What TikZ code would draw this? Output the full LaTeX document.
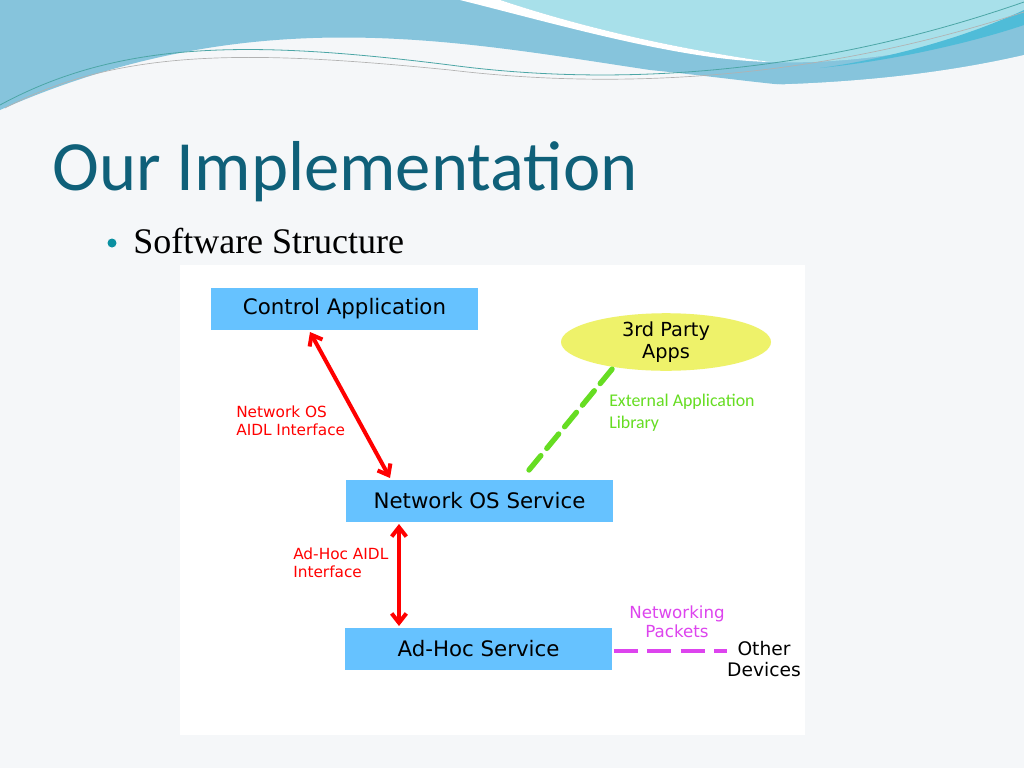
\documentclass[tikz,border=0pt]{standalone}
\usepackage{fontspec}
\setmainfont{Liberation Serif}
\newfontfamily\carfont{Carlito}
\newfontfamily\dv{DejaVu Sans}
\usetikzlibrary{shapes.geometric,arrows.meta}
\definecolor{bg}{HTML}{F5F7F9}
\definecolor{boxb}{HTML}{66C2FF}
\definecolor{ttl}{HTML}{0F6079}
\definecolor{ylw}{HTML}{EEF26A}
\definecolor{grn}{HTML}{66DD22}
\definecolor{mag}{HTML}{DD44EE}
\definecolor{wv1}{HTML}{86C4DC}
\definecolor{wv2}{HTML}{A8E0EA}
\definecolor{wv3}{HTML}{4FBCD8}
\tikzset{
 box/.style={fill=boxb,minimum width=267*0.75pt,minimum height=42*0.75pt,inner sep=0pt,font=\dv\fontsize{16}{19}\selectfont},
 lbl/.style={align=left,anchor=north west,inner sep=0pt,font=\dv\fontsize{11.5}{13.5}\selectfont},
 redarr/.style={red,line width=3pt,{Straight Barb[length=7pt,width=11pt]}-{Straight Barb[length=7pt,width=11pt]}},
}
\begin{document}
\begin{tikzpicture}[x=0.75pt,y=-0.75pt]
\useasboundingbox (0,0) rectangle (1024,768);
\fill[bg] (0,0) rectangle (1024,768);
% header waves
\fill[wv1] (0,0) -- (1024,0) -- (1024,60) .. controls (900,110) and (800,85) .. (650,70) .. controls (450,40) and (250,0) .. (0,110) -- cycle;
\fill[wv2] (500,0) -- (1024,0) -- (1024,20) .. controls (950,50) and (850,65) .. (770,62) .. controls (650,45) and (560,20) .. (500,0) -- cycle;
\fill[white] (460,0) -- (500,0) .. controls (560,20) and (650,45) .. (770,62) .. controls (680,60) and (560,25) .. (460,0) -- cycle;
\fill[wv3] (1024,10) .. controls (960,40) and (880,60) .. (820,68) .. controls (900,60) and (980,40) .. (1024,25) -- cycle;
\draw[teal!70,line width=0.6pt] (0,105) .. controls (120,40) and (250,40) .. (450,65) .. controls (600,85) and (800,80) .. (1024,2);
\draw[gray!60,line width=0.5pt] (5,108) .. controls (120,48) and (250,50) .. (450,70) .. controls (600,88) and (800,85) .. (1024,12);
\fill[bg] (0,130) .. controls (150,55) and (300,60) .. (450,72) .. controls (650,90) and (850,95) .. (1024,55) -- (1024,140) -- (0,140) -- cycle;
% title
\node[anchor=base west,inner sep=0pt,text=ttl,font=\carfont\fontsize{53}{55}\selectfont] (title) at (52,190) {Our Implementation};
\fill[ttl!70!cyan] (112,243) circle (4.5);
\node[anchor=base west,inner sep=0pt,font=\fontsize{27}{29}\selectfont] (sub) at (133,253) {Software Structure};
% panel
\fill[white] (180,265) rectangle (805,735);
\node[box] (ctrl) at (344.5,309) {Control Application};
\node[box] (nos) at (479.5,500.5) {Network OS Service};
\node[box] (adh) at (478.5,649) {Ad-Hoc Service};
\node[ellipse,fill=ylw,minimum width=210*0.75pt,minimum height=48*0.75pt,inner sep=0pt,align=center,font=\dv\fontsize{14.5}{16.5}\selectfont] (apps) at (666,342) {3rd Party\\Apps};
\coordinate (a1) at (310,332); \coordinate (a2) at (390,478);
\draw[redarr] (a1) -- (a2);
\coordinate (b1) at (399,524); \coordinate (b2) at (399,626);
\draw[redarr] (b1) -- (b2);
\coordinate (g1) at (529,470); \coordinate (g2) at (613,368);
\draw[grn,line width=4pt,dash pattern=on 14pt off 7pt,line cap=round] (g1) -- (g2);
\coordinate (m1) at (614,651); \coordinate (m2) at (727,651);
\draw[mag,line width=3.2pt,dash pattern=on 18pt off 7pt] (m1) -- (m2);
\node[lbl,text=red] (l1) at (236,406) {Network OS\\AIDL Interface};
\node[lbl,text=red] (l2) at (293,548) {Ad-Hoc AIDL\\Interface};
\node[lbl,text=grn,font=\carfont\fontsize{13.4}{16.5}\selectfont] (l3) at (609,394) {External Application\\Library};
\node[align=center,inner sep=0pt,text=mag,font=\dv\fontsize{12.5}{14}\selectfont] (l4) at (677,622) {Networking\\Packets};
\node[align=center,inner sep=0pt,font=\dv\fontsize{14}{16}\selectfont] (od) at (764,659) {Other\\Devices};
\end{tikzpicture}
\end{document}
